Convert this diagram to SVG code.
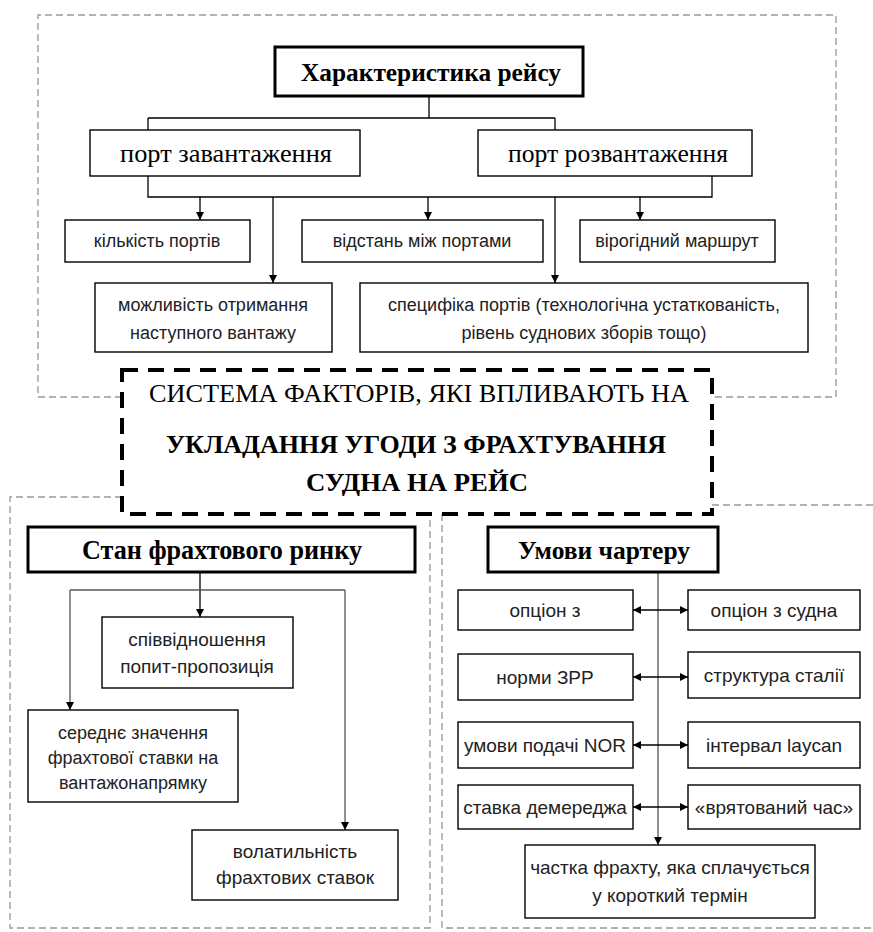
<svg xmlns="http://www.w3.org/2000/svg" width="873" height="932" viewBox="0 0 873 932">
<style>
.box{fill:#fff;stroke:#000;stroke-width:1.4}
.tbox{fill:#fff;stroke:#000;stroke-width:3}
.ser{font-family:"Liberation Serif","Times New Roman",serif;fill:#000;text-anchor:middle}
.san{font-family:"Liberation Sans",Arial,sans-serif;fill:#222;text-anchor:middle;font-size:18px}
.sb{font-size:19px}
.ln{fill:none;stroke:#000;stroke-width:1.3}
.gl{fill:none;stroke:#555;stroke-width:1.3}
.od{fill:none;stroke:#999;stroke-width:1.3;stroke-dasharray:7 4}
</style>
<defs>
<marker id="ah" viewBox="0 0 10 10" refX="10" refY="5" markerWidth="8" markerHeight="8" orient="auto-start-reverse" markerUnits="userSpaceOnUse"><path d="M0 0 L10 5 L0 10 z" fill="#000"/></marker>
</defs>
<rect width="873" height="932" fill="#fff"/>
<g id="frames">
<path class="od" d="M122 397 H38 V15 H836 V397 H712"/>
<path class="od" d="M122 497 H10 V928 H430 V514"/>
<path class="od" d="M712 505 H873 M442 514 V928 H873"/>
</g>
<g id="connectors">
<path class="ln" d="M429 96 V118 M148 118 H555 M148 118 V130 M555 118 V130"/>
<path class="ln" d="M148 176 V197 H712 V176"/>
<path class="ln" d="M200 197 V220" marker-end="url(#ah)"/>
<path class="ln" d="M273 197 V283" marker-end="url(#ah)"/>
<path class="ln" d="M428 197 V220" marker-end="url(#ah)"/>
<path class="ln" d="M555 197 V283" marker-end="url(#ah)"/>
<path class="ln" d="M640 197 V220" marker-end="url(#ah)"/>
<path class="ln" d="M200 572 V617" marker-end="url(#ah)"/>
<path class="gl" d="M70 590 H345"/>
<path class="gl" d="M70 590 V710" marker-end="url(#ah)"/>
<path class="gl" d="M345 590 V830" marker-end="url(#ah)"/>
<path class="gl" d="M658 572 V845" marker-end="url(#ah)"/>
<path class="ln" d="M633 610 H688" marker-start="url(#ah)" marker-end="url(#ah)"/>
<path class="ln" d="M633 677 H688" marker-start="url(#ah)" marker-end="url(#ah)"/>
<path class="ln" d="M633 745 H688" marker-start="url(#ah)" marker-end="url(#ah)"/>
<path class="ln" d="M633 807 H688" marker-start="url(#ah)" marker-end="url(#ah)"/>
</g>
<g id="n-char"><rect class="tbox" x="275" y="47" width="308" height="49"/><text class="ser" x="431" y="81" font-size="26" font-weight="bold" textLength="260" lengthAdjust="spacingAndGlyphs">Характеристика рейсу</text></g>
<g id="n-load"><rect class="box" x="90" y="130" width="270" height="46"/><text class="ser" x="226" y="162" font-size="25" textLength="212" lengthAdjust="spacingAndGlyphs">порт завантаження</text></g>
<g id="n-unload"><rect class="box" x="478" y="130" width="274" height="46"/><text class="ser" x="618" y="162" font-size="25" textLength="220" lengthAdjust="spacingAndGlyphs">порт розвантаження</text></g>
<g id="n-count"><rect class="box" x="65" y="220" width="185" height="42"/><text class="san" x="157" y="247">кількість портів</text></g>
<g id="n-dist"><rect class="box" x="302" y="220" width="241" height="42"/><text class="san" x="422" y="247">відстань між портами</text></g>
<g id="n-route"><rect class="box" x="580" y="220" width="195" height="42"/><text class="san" x="677" y="247">вірогідний маршрут</text></g>
<g id="n-next"><rect class="box" x="95" y="283" width="237" height="69"/><text class="san" x="213" y="311">можливість отримання</text><text class="san" x="213" y="339">наступного вантажу</text></g>
<g id="n-spec"><rect class="box" x="360" y="283" width="448" height="69"/><text class="san" x="584" y="311">специфіка портів (технологічна устаткованість,</text><text class="san" x="584" y="339">рівень суднових зборів  тощо)</text></g>
<g id="n-center"><rect x="122" y="370" width="590" height="144" fill="#fff" stroke="#000" stroke-width="4" stroke-dasharray="16 10"/>
<text class="ser" x="419" y="402" font-size="25" textLength="540" lengthAdjust="spacingAndGlyphs">СИСТЕМА ФАКТОРІВ, ЯКІ ВПЛИВАЮТЬ НА</text>
<text class="ser" x="416" y="453" font-size="25" font-weight="bold" textLength="500" lengthAdjust="spacingAndGlyphs">УКЛАДАННЯ УГОДИ З ФРАХТУВАННЯ</text>
<text class="ser" x="417" y="491" font-size="25" font-weight="bold" textLength="222" lengthAdjust="spacingAndGlyphs">СУДНА НА РЕЙС</text></g>
<g id="n-market"><rect class="tbox" x="28" y="527" width="387" height="45"/><text class="ser" x="222" y="559" font-size="27" font-weight="bold" textLength="280" lengthAdjust="spacingAndGlyphs">Стан фрахтового ринку</text></g>
<g id="n-ratio"><rect class="box" x="102" y="617" width="191" height="71"/><text class="san sb" x="197" y="646">співвідношення</text><text class="san sb" x="197" y="673">попит-пропозиція</text></g>
<g id="n-avg"><rect class="box" x="28" y="710" width="210" height="92"/><text class="san" x="133" y="739" font-size="20">середнє значення</text><text class="san" x="133" y="764" font-size="20">фрахтової ставки на</text><text class="san" x="133" y="789" font-size="20">вантажонапрямку</text></g>
<g id="n-vol"><rect class="box" x="192" y="830" width="206" height="70"/><text class="san sb" x="295" y="858">волатильність</text><text class="san sb" x="295" y="884">фрахтових ставок</text></g>
<g id="n-charter"><rect class="tbox" x="488" y="527" width="230" height="45"/><text class="ser" x="604" y="559" font-size="26" font-weight="bold" textLength="172" lengthAdjust="spacingAndGlyphs">Умови чартеру</text></g>
<g id="n-opt1"><rect class="box" x="458" y="590" width="175" height="40"/><text class="san sb" x="545" y="617">опціон з</text></g>
<g id="n-opt2"><rect class="box" x="688" y="590" width="172" height="40"/><text class="san sb" x="774" y="617">опціон з судна</text></g>
<g id="n-zrr"><rect class="box" x="458" y="654" width="175" height="46"/><text class="san sb" x="545" y="684">норми ЗРР</text></g>
<g id="n-stal"><rect class="box" x="688" y="652" width="172" height="46"/><text class="san sb" x="774" y="682">структура сталії</text></g>
<g id="n-nor"><rect class="box" x="458" y="722" width="175" height="46"/><text class="san sb" x="545" y="752">умови подачі NOR</text></g>
<g id="n-lay"><rect class="box" x="688" y="722" width="172" height="46"/><text class="san sb" x="774" y="752">інтервал laycan</text></g>
<g id="n-dem"><rect class="box" x="458" y="785" width="175" height="44"/><text class="san sb" x="545" y="814">ставка демереджа</text></g>
<g id="n-saved"><rect class="box" x="688" y="785" width="172" height="44"/><text class="san sb" x="774" y="814">«врятований час»</text></g>
<g id="n-share"><rect class="box" x="525" y="845" width="290" height="73"/><text class="san sb" x="670" y="874">частка фрахту, яка сплачується</text><text class="san sb" x="670" y="902">у короткий термін</text></g>
</svg>
